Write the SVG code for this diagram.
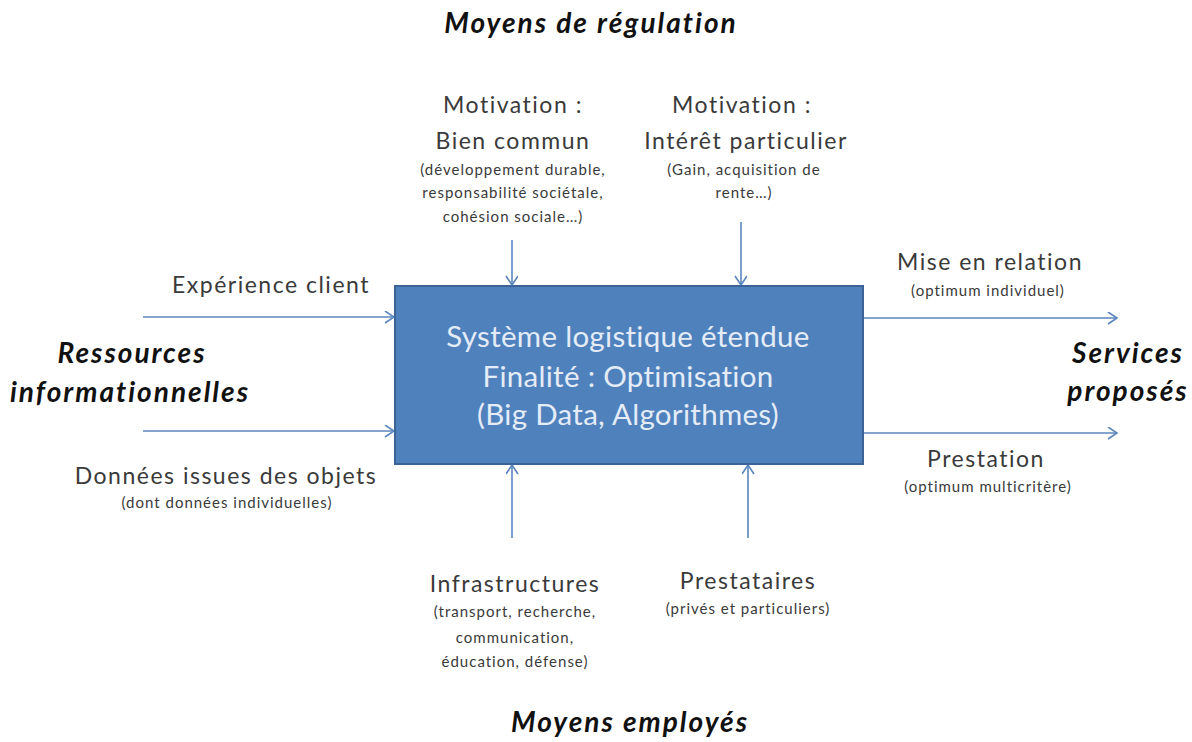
<svg xmlns="http://www.w3.org/2000/svg" width="1192" height="742" viewBox="0 0 1192 742">
<style>
text{font-family:Lato,"Liberation Sans",sans-serif;fill:#3a3a3a;text-anchor:middle}
.h{font-weight:bold;font-style:italic;font-size:28px;letter-spacing:2px;fill:#111}
.m{font-size:23px;letter-spacing:1.5px}
.s{font-size:15px;letter-spacing:1px}
.b{font-size:29.5px;letter-spacing:0.3px;fill:#e4ecf7}
.c{stroke:#5b86bd;stroke-width:1.6;fill:none;marker-end:url(#ah)}
</style>
<defs>
<marker id="ah" markerWidth="14" markerHeight="14" refX="11" refY="6" orient="auto" markerUnits="userSpaceOnUse">
<polyline points="2,0 11,6 2,12" fill="none" stroke="#5b86bd" stroke-width="1.6"/>
</marker>
</defs>
<rect width="1192" height="742" fill="#fff"/>
<g id="connectors">
<line class="c" x1="143" y1="317" x2="394" y2="317"/>
<line class="c" x1="143" y1="431" x2="394" y2="431"/>
<line class="c" x1="864" y1="318" x2="1117" y2="318"/>
<line class="c" x1="864" y1="433" x2="1117" y2="433"/>
<line class="c" x1="512" y1="240" x2="512" y2="285"/>
<line class="c" x1="741" y1="222" x2="741" y2="285"/>
<line class="c" x1="512" y1="538" x2="512" y2="465"/>
<line class="c" x1="748" y1="538" x2="748" y2="465"/>
</g>
<g id="system">
<rect x="395" y="286" width="468" height="178" fill="#4f81bd" stroke="#3b6396" stroke-width="2"/>
<text class="b" x="628" y="347">Système logistique étendue</text>
<text class="b" x="628" y="387">Finalité : Optimisation</text>
<text class="b" x="628" y="425">(Big Data, Algorithmes)</text>
</g>
<g id="title-regulation"><text class="h" x="591" y="33">Moyens de régulation</text></g>
<g id="title-employes"><text class="h" x="630" y="732">Moyens employés</text></g>
<g id="title-ressources">
<text class="h" x="132" y="363">Ressources</text>
<text class="h" x="130" y="402">informationnelles</text>
</g>
<g id="title-services">
<text class="h" x="1128" y="363">Services</text>
<text class="h" x="1128" y="401">proposés</text>
</g>
<g id="bien-commun">
<text class="m" x="513" y="113">Motivation :</text>
<text class="m" x="513" y="149">Bien commun</text>
<text class="s" x="513" y="175">(développement durable,</text>
<text class="s" x="513" y="198">responsabilité sociétale,</text>
<text class="s" x="513" y="222">cohésion sociale…)</text>
</g>
<g id="interet">
<text class="m" x="742" y="113">Motivation :</text>
<text class="m" x="746" y="149">Intérêt particulier</text>
<text class="s" x="744" y="175">(Gain, acquisition de</text>
<text class="s" x="744" y="198">rente…)</text>
</g>
<g id="experience"><text class="m" x="271" y="293">Expérience client</text></g>
<g id="donnees">
<text class="m" x="226" y="484">Données issues des objets</text>
<text class="s" x="227" y="508">(dont données individuelles)</text>
</g>
<g id="mise">
<text class="m" x="990" y="270">Mise en relation</text>
<text class="s" x="988" y="296">(optimum individuel)</text>
</g>
<g id="prestation">
<text class="m" x="986" y="467">Prestation</text>
<text class="s" x="988" y="492">(optimum multicritère)</text>
</g>
<g id="infrastructures">
<text class="m" x="515" y="592">Infrastructures</text>
<text class="s" x="515" y="617">(transport, recherche,</text>
<text class="s" x="515" y="643">communication,</text>
<text class="s" x="515" y="667">éducation, défense)</text>
</g>
<g id="prestataires">
<text class="m" x="748" y="589">Prestataires</text>
<text class="s" x="748" y="614">(privés et particuliers)</text>
</g>
</svg>
